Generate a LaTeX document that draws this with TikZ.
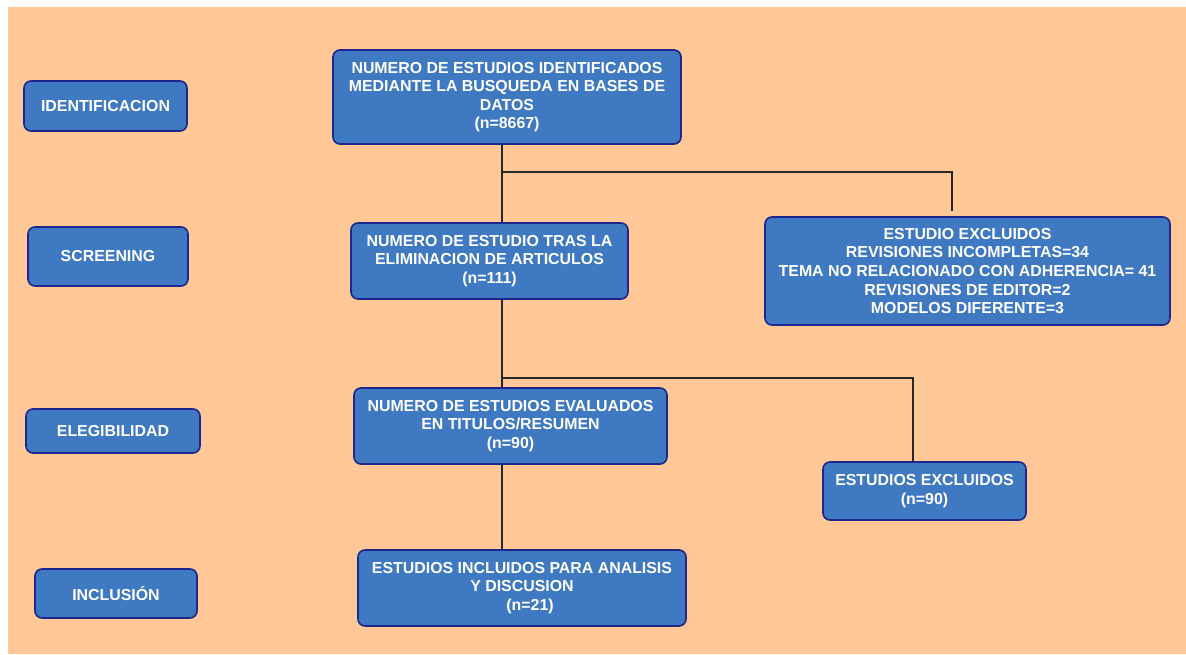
\documentclass[tikz,border=0pt]{standalone}
\usepackage{fontspec}
\setmainfont{Liberation Sans}
\definecolor{bg}{RGB}{255,200,150}
\definecolor{boxfill}{RGB}{62,121,194}
\definecolor{boxdraw}{RGB}{28,38,140}
\tikzset{
  box/.style={draw=boxdraw, fill=boxfill, line width=1.6pt, rounded corners=7pt,
    text=white, font=\bfseries\fontsize{15.9}{18.6}\selectfont, align=center, inner sep=0pt},
  conn/.style={line width=1.1pt, draw=black!85}
}
\begin{document}
\begin{tikzpicture}[x=1pt,y=-1pt]
\useasboundingbox (0,0) rectangle (1186,654);
\fill[bg] (8,7) rectangle (1186,654);
% stage labels
\node[box, minimum width=163pt, minimum height=50pt] (idf) at (105.5,106) {IDENTIFICACION};
\node[box, minimum width=160pt, minimum height=59pt] (scr) at (108,256.5) {SCREENING};
\node[box, minimum width=174pt, minimum height=44pt] (ele) at (113,431) {ELEGIBILIDAD};
\node[box, minimum width=162pt, minimum height=49pt] (inc) at (116,593.5) {INCLUSIÓN};
% flow boxes
\node[box, minimum width=348pt, minimum height=94pt] (b1) at (507,97)
  {NUMERO DE ESTUDIOS IDENTIFICADOS\\MEDIANTE LA BUSQUEDA EN BASES DE\\DATOS\\(n=8667)};
\node[box, minimum width=277pt, minimum height=76pt] (b2) at (489.5,261)
  {NUMERO DE ESTUDIO TRAS LA\\ELIMINACION DE ARTICULOS\\(n=111)};
\node[box, minimum width=405pt, minimum height=108pt] (b3) at (967.5,271)
  {ESTUDIO EXCLUIDOS\\REVISIONES INCOMPLETAS=34\\TEMA NO RELACIONADO CON ADHERENCIA= 41\\REVISIONES DE EDITOR=2\\MODELOS DIFERENTE=3};
\node[box, minimum width=313pt, minimum height=76pt] (b4) at (510.5,426)
  {NUMERO DE ESTUDIOS EVALUADOS\\EN TITULOS/RESUMEN\\(n=90)};
\node[box, minimum width=203pt, minimum height=58pt] (b5) at (924.5,491)
  {ESTUDIOS EXCLUIDOS\\(n=90)};
\node[box, minimum width=328pt, minimum height=76pt] (b6) at (522,588)
  {ESTUDIOS INCLUIDOS PARA ANALISIS\\Y DISCUSION\\\hspace*{16pt}(n=21)};
% connectors
\coordinate (j1) at (502,172);
\coordinate (e1) at (952,172);
\coordinate (t1) at (952,211);
\coordinate (j2) at (502,378);
\coordinate (e2) at (913,378);
\draw[conn] (b1.south -| j1) -- (b2.north -| j1);
\draw[conn] (j1) -- (e1) -- (t1);
\draw[conn] (b2.south -| j2) -- (b4.north -| j2);
\draw[conn] (j2) -- (e2) -- (b5.north -| e2);
\draw[conn] (b4.south -| j2) -- (b6.north -| j2);
\end{tikzpicture}
\end{document}
